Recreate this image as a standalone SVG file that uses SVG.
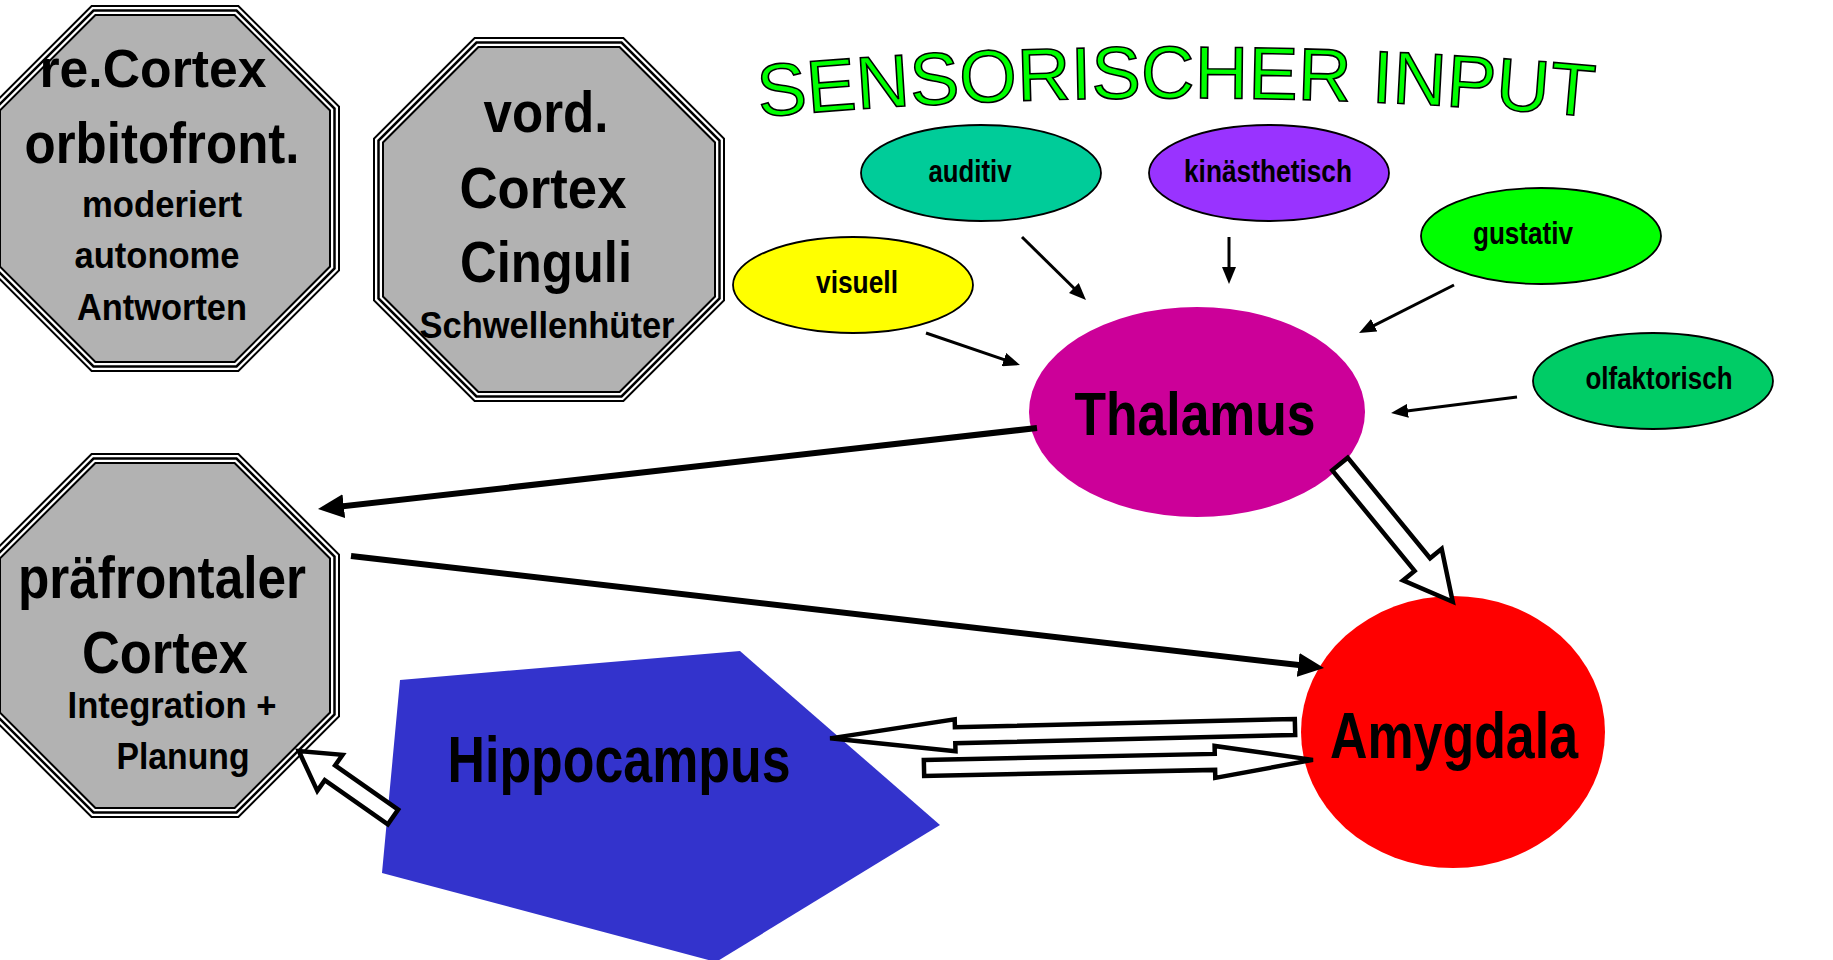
<svg xmlns="http://www.w3.org/2000/svg" width="1833" height="960" viewBox="0 0 1833 960">
<style>
.oct{fill:#b2b2b2;stroke:#000;stroke-width:11;stroke-linejoin:miter}
.octw{fill:none;stroke:#fff;stroke-width:7;stroke-linejoin:miter}
.octb{fill:none;stroke:#000;stroke-width:2.5;stroke-linejoin:miter}
.t{font-family:"Liberation Sans",Arial,sans-serif;font-weight:bold;fill:#000;text-anchor:middle}
.sens{stroke:#000;stroke-width:1.8}
.thin{stroke:#000;stroke-width:3;fill:none;marker-end:url(#ah)}
.thick{stroke:#000;stroke-width:6;fill:none;marker-end:url(#ahb)}
.block{fill:#fff;stroke:#000;stroke-width:4.5;stroke-linejoin:miter}
</style>
<defs>
<marker id="ah" markerUnits="userSpaceOnUse" markerWidth="18" markerHeight="14" refX="11" refY="7" orient="auto"><path d="M0,0 L17,7 L0,14 z" fill="#000"/></marker>
<marker id="ahb" markerUnits="userSpaceOnUse" markerWidth="28" markerHeight="26" refX="14" refY="12" orient="auto"><path d="M0,0 L26,12 L0,24 z" fill="#000"/></marker>
<path id="arc" d="M 760 117 Q 1176 79 1592 117"/>
</defs>
<rect width="1833" height="960" fill="#fff"/>

<g id="title">
<text font-family="'Liberation Sans',Arial,sans-serif" font-size="74" fill="#00ff00" stroke="#000" stroke-width="1.6"><textPath href="#arc" startOffset="50%" text-anchor="middle">SENSORISCHER INPUT</textPath></text>
</g>

<g id="orbitofrontal">
<polygon class="oct" points="93.5,10.5 236.5,10.5 334.5,108.5 334.5,268.5 236.5,366.5 93.5,366.5 -4.5,268.5 -4.5,108.5"/>
<polygon class="octw" points="93.5,10.5 236.5,10.5 334.5,108.5 334.5,268.5 236.5,366.5 93.5,366.5 -4.5,268.5 -4.5,108.5"/>
<polygon class="octb" points="93.5,10.5 236.5,10.5 334.5,108.5 334.5,268.5 236.5,366.5 93.5,366.5 -4.5,268.5 -4.5,108.5"/>
<text class="t" x="153" y="87" font-size="53" textLength="227" lengthAdjust="spacingAndGlyphs">re.Cortex</text>
<text class="t" x="162" y="163" font-size="58" textLength="275" lengthAdjust="spacingAndGlyphs">orbitofront.</text>
<text class="t" x="162" y="217" font-size="37" textLength="160" lengthAdjust="spacingAndGlyphs">moderiert</text>
<text class="t" x="157" y="268" font-size="37" textLength="165" lengthAdjust="spacingAndGlyphs">autonome</text>
<text class="t" x="162" y="320" font-size="37" textLength="170" lengthAdjust="spacingAndGlyphs">Antworten</text>
</g>

<g id="cinguli">
<polygon class="oct" points="476.5,42.5 621.5,42.5 719.5,140.5 719.5,298.5 621.5,396.5 476.5,396.5 378.5,298.5 378.5,140.5"/>
<polygon class="octw" points="476.5,42.5 621.5,42.5 719.5,140.5 719.5,298.5 621.5,396.5 476.5,396.5 378.5,298.5 378.5,140.5"/>
<polygon class="octb" points="476.5,42.5 621.5,42.5 719.5,140.5 719.5,298.5 621.5,396.5 476.5,396.5 378.5,298.5 378.5,140.5"/>
<text class="t" x="546" y="132" font-size="57" textLength="125" lengthAdjust="spacingAndGlyphs">vord.</text>
<text class="t" x="543" y="208" font-size="57" textLength="167" lengthAdjust="spacingAndGlyphs">Cortex</text>
<text class="t" x="546" y="282" font-size="57" textLength="172" lengthAdjust="spacingAndGlyphs">Cinguli</text>
<text class="t" x="547" y="338" font-size="36" textLength="255" lengthAdjust="spacingAndGlyphs">Schwellenhüter</text>
</g>

<g id="praefrontal">
<polygon class="oct" points="93.5,458.5 236.5,458.5 334.5,556.5 334.5,714.5 236.5,812.5 93.5,812.5 -4.5,714.5 -4.5,556.5"/>
<polygon class="octw" points="93.5,458.5 236.5,458.5 334.5,556.5 334.5,714.5 236.5,812.5 93.5,812.5 -4.5,714.5 -4.5,556.5"/>
<polygon class="octb" points="93.5,458.5 236.5,458.5 334.5,556.5 334.5,714.5 236.5,812.5 93.5,812.5 -4.5,714.5 -4.5,556.5"/>
<text class="t" x="162" y="598" font-size="59" textLength="288" lengthAdjust="spacingAndGlyphs">präfrontaler</text>
<text class="t" x="165" y="673" font-size="59" textLength="166" lengthAdjust="spacingAndGlyphs">Cortex</text>
<text class="t" x="172" y="718" font-size="37" textLength="209" lengthAdjust="spacingAndGlyphs">Integration +</text>
<text class="t" x="183" y="769" font-size="37" textLength="133" lengthAdjust="spacingAndGlyphs">Planung</text>
</g>

<g id="auditiv">
<ellipse class="sens" cx="981" cy="173" rx="120" ry="48" fill="#00cc99"/>
<text class="t" x="970" y="182" font-size="31" textLength="83" lengthAdjust="spacingAndGlyphs">auditiv</text>
</g>
<g id="kinaesthetisch">
<ellipse class="sens" cx="1269" cy="173" rx="120" ry="48" fill="#9933ff"/>
<text class="t" x="1268" y="182" font-size="31" textLength="168" lengthAdjust="spacingAndGlyphs">kinästhetisch</text>
</g>
<g id="gustativ">
<ellipse class="sens" cx="1541" cy="236" rx="120" ry="48" fill="#00ff00"/>
<text class="t" x="1523" y="244" font-size="31" textLength="100" lengthAdjust="spacingAndGlyphs">gustativ</text>
</g>
<g id="visuell">
<ellipse class="sens" cx="853" cy="285" rx="120" ry="48" fill="#ffff00"/>
<text class="t" x="857" y="293" font-size="31" textLength="82" lengthAdjust="spacingAndGlyphs">visuell</text>
</g>
<g id="olfaktorisch">
<ellipse class="sens" cx="1653" cy="381" rx="120" ry="48" fill="#00cc66"/>
<text class="t" x="1659" y="389" font-size="31" textLength="147" lengthAdjust="spacingAndGlyphs">olfaktorisch</text>
</g>

<g id="thalamus">
<ellipse cx="1197" cy="412" rx="168" ry="105" fill="#cc0099"/>
<text class="t" x="1195" y="435" font-size="62" textLength="241" lengthAdjust="spacingAndGlyphs">Thalamus</text>
</g>

<g id="amygdala">
<ellipse cx="1453" cy="732" rx="152" ry="136" fill="#ff0000"/>
<text class="t" x="1454" y="758" font-size="64" textLength="248" lengthAdjust="spacingAndGlyphs">Amygdala</text>
</g>

<g id="hippocampus">
<polygon points="400,680 740,651 940,825 716,962 382,873" fill="#3333cc"/>
<text class="t" x="619" y="782" font-size="65" textLength="343" lengthAdjust="spacingAndGlyphs">Hippocampus</text>
</g>

<g id="connectors">
<line class="thin" x1="926" y1="333" x2="1014.3" y2="363.1"/>
<line class="thin" x1="1022" y1="237" x2="1081.7" y2="295.8"/>
<line class="thin" x1="1229" y1="237" x2="1229" y2="278"/>
<line class="thin" x1="1454" y1="285" x2="1364.4" y2="330.3"/>
<line class="thin" x1="1517" y1="397" x2="1397" y2="412.2"/>
<line class="thick" x1="1037" y1="428" x2="329.9" y2="507.7"/>
<line class="thick" x1="351" y1="556" x2="1312.1" y2="666.6"/>
<polygon class="block" transform="translate(1340,464) rotate(50.7)" points="0,-10 130,-10 130,-25 178,0 130,25 130,10 0,10"/>
<polygon class="block" transform="translate(1295,727) rotate(178.6)" points="0,-8 340,-8 340,-16 465,0 340,16 340,8 0,8"/>
<polygon class="block" transform="translate(924,768) rotate(-1.2)" points="0,-8 291,-8 291,-16 389,0 291,16 291,8 0,8"/>
<polygon class="block" transform="translate(393,817) rotate(215)" points="0,-9 77,-9 77,-22 115,0 77,22 77,9 0,9"/>
</g>
</svg>
